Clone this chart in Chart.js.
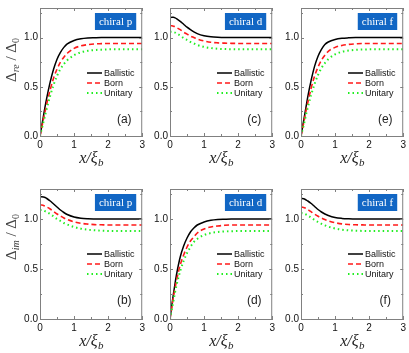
<!DOCTYPE html>
<html>
<head>
<meta charset="utf-8">
<script src="https://cdn.jsdelivr.net/npm/chart.js@4.4.0/dist/chart.umd.min.js"></script>
<style>
  body { margin: 0; background: #fff; }
  #wrap { position: relative; width: 409px; height: 353px; overflow: hidden; }
  canvas { position: absolute; }
</style>
</head>
<body>
<div id="wrap"></div>
<script>
// x/xi_b sample positions shared by every panel
const xs = [0, 0.05, 0.1, 0.15, 0.2, 0.3, 0.4, 0.5, 0.6, 0.7, 0.8, 1.0, 1.2, 1.4, 1.6, 1.8, 2.0, 2.5, 3.0];
const xTicks = [0, 1, 2, 3];
const yTicks = [0, 0.5, 1.0];
const seriesNames = ["Ballistic", "Born", "Unitary"];

// (a) chiral p, real part
const aBallistic = [0, 0.1, 0.2, 0.3, 0.39, 0.55, 0.68, 0.78, 0.85, 0.9, 0.935, 0.97, 0.987, 0.995, 0.998, 1, 1, 1, 1];
const aBorn      = [0, 0.08, 0.17, 0.25, 0.33, 0.47, 0.59, 0.68, 0.75, 0.8, 0.84, 0.89, 0.915, 0.928, 0.935, 0.938, 0.94, 0.94, 0.94];
const aUnitary   = [0, 0.07, 0.14, 0.21, 0.28, 0.41, 0.52, 0.61, 0.68, 0.73, 0.77, 0.82, 0.85, 0.865, 0.873, 0.877, 0.88, 0.88, 0.88];

// (c) chiral d, real part
const cBallistic = [1.2, 1.205, 1.205, 1.2, 1.19, 1.165, 1.135, 1.105, 1.08, 1.058, 1.04, 1.018, 1.007, 1.002, 1, 1, 1, 1, 1];
const cBorn      = [1.12, 1.12, 1.115, 1.11, 1.1, 1.08, 1.055, 1.035, 1.015, 1.0, 0.985, 0.965, 0.952, 0.946, 0.943, 0.941, 0.94, 0.94, 0.94];
const cUnitary   = [1.06, 1.06, 1.055, 1.05, 1.04, 1.02, 0.995, 0.975, 0.955, 0.94, 0.925, 0.905, 0.893, 0.886, 0.883, 0.881, 0.88, 0.88, 0.88];

// (e) chiral f, real part
const eBallistic = [0, 0.1, 0.2, 0.3, 0.4, 0.57, 0.71, 0.81, 0.88, 0.93, 0.955, 0.98, 0.992, 0.997, 1, 1, 1, 1, 1];
const eBorn      = [0, 0.08, 0.17, 0.26, 0.34, 0.49, 0.61, 0.7, 0.77, 0.82, 0.86, 0.9, 0.92, 0.93, 0.936, 0.94, 0.94, 0.94, 0.94];
const eUnitary   = [0, 0.07, 0.14, 0.22, 0.29, 0.42, 0.53, 0.62, 0.69, 0.74, 0.78, 0.83, 0.855, 0.868, 0.875, 0.878, 0.88, 0.88, 0.88];

// (b) chiral p, imaginary part
const bBallistic = [1.22, 1.222, 1.22, 1.215, 1.205, 1.18, 1.15, 1.12, 1.09, 1.065, 1.045, 1.02, 1.008, 1.003, 1.001, 1, 1, 1, 1];
const bBorn      = [1.14, 1.14, 1.135, 1.128, 1.12, 1.1, 1.075, 1.05, 1.03, 1.01, 0.995, 0.972, 0.957, 0.949, 0.944, 0.942, 0.94, 0.94, 0.94];
const bUnitary   = [1.09, 1.09, 1.085, 1.078, 1.07, 1.05, 1.025, 1.0, 0.98, 0.96, 0.945, 0.92, 0.903, 0.893, 0.887, 0.883, 0.881, 0.88, 0.88];

// (d) chiral d, imaginary part
const dBallistic = [0, 0.13, 0.25, 0.36, 0.46, 0.62, 0.73, 0.81, 0.87, 0.91, 0.94, 0.97, 0.987, 0.995, 0.998, 1, 1, 1, 1];
const dBorn      = [0, 0.11, 0.22, 0.31, 0.4, 0.54, 0.64, 0.72, 0.78, 0.82, 0.86, 0.9, 0.92, 0.93, 0.937, 0.94, 0.94, 0.94, 0.94];
const dUnitary   = [0, 0.09, 0.18, 0.27, 0.35, 0.48, 0.58, 0.66, 0.72, 0.77, 0.8, 0.84, 0.86, 0.87, 0.875, 0.878, 0.88, 0.88, 0.88];

// (f) chiral f, imaginary part
const fBallistic = [1.2, 1.205, 1.2, 1.19, 1.18, 1.155, 1.125, 1.095, 1.07, 1.05, 1.035, 1.015, 1.006, 1.002, 1, 1, 1, 1, 1];
const fBorn      = [1.12, 1.118, 1.113, 1.105, 1.095, 1.072, 1.048, 1.027, 1.01, 0.995, 0.982, 0.963, 0.951, 0.945, 0.942, 0.941, 0.94, 0.94, 0.94];
const fUnitary   = [1.06, 1.058, 1.052, 1.045, 1.035, 1.013, 0.99, 0.97, 0.952, 0.937, 0.924, 0.905, 0.893, 0.886, 0.883, 0.881, 0.88, 0.88, 0.88];

const panels = [
  { id: "a", row: 0, col: 0, tag: "chiral p", yName: "re", data: [aBallistic, aBorn, aUnitary] },
  { id: "c", row: 0, col: 1, tag: "chiral d", yName: null, data: [cBallistic, cBorn, cUnitary] },
  { id: "e", row: 0, col: 2, tag: "chiral f", yName: null, data: [eBallistic, eBorn, eUnitary] },
  { id: "b", row: 1, col: 0, tag: "chiral p", yName: "im", data: [bBallistic, bBorn, bUnitary] },
  { id: "d", row: 1, col: 1, tag: "chiral d", yName: null, data: [dBallistic, dBorn, dUnitary] },
  { id: "f", row: 1, col: 2, tag: "chiral f", yName: null, data: [fBallistic, fBorn, fUnitary] }
];

const lineStyles = [
  { color: "#000000", dash: [], width: 1.5 },
  { color: "#ff1a1a", dash: [5, 3], width: 1.6 },
  { color: "#22ee22", dash: [1.5, 3], width: 2 }
];

// canvas boxes per column / row
const colLeft = [0, 148, 279], colWidth = [148, 130, 130], yAxisW = [40, 22, 22], padRight = [3, 3, 4];
const rowTop = [0, 176], rowHeight = [176, 177], padTop = [7, 13], xAxisH = [40, 34];

const sans = "'Liberation Sans', Arial, sans-serif";
const serif = "'Liberation Serif', 'Times New Roman', serif";

const decorate = {
  id: "decorate",
  afterDraw(chart) {
    const ctx = chart.ctx;
    const area = chart.chartArea;
    const p = chart.options.plugins.decorate;
    const xs_ = chart.scales.x, ys_ = chart.scales.y;
    ctx.save();

    // frame
    ctx.strokeStyle = "#808080";
    ctx.lineWidth = 1;
    ctx.strokeRect(area.left + 0.5, area.top + 0.5, area.right - area.left - 1, area.bottom - area.top);

    // inward tick marks
    ctx.beginPath();
    for (let v = 0; v <= 3.001; v += 0.5) {
      const px = Math.round(xs_.getPixelForValue(v)) + 0.5;
      const len = Number.isInteger(v) ? 3 : 2;
      ctx.moveTo(px, area.bottom); ctx.lineTo(px, area.bottom - len);
      ctx.moveTo(px, area.top); ctx.lineTo(px, area.top + len);
    }
    for (let v = 0; v <= 1.3; v += 0.25) {
      const py = Math.round(ys_.getPixelForValue(v)) + 0.5;
      const len = (v * 2) % 1 === 0 ? 3 : 2;
      ctx.moveTo(area.left, py); ctx.lineTo(area.left + len, py);
      ctx.moveTo(area.right, py); ctx.lineTo(area.right - len, py);
    }
    ctx.stroke();

    // tag box
    ctx.font = "11px " + serif;
    const tw = ctx.measureText(p.tag).width;
    const bw = tw + 8, bh = 17;
    const bx = area.right - 6 - bw, by = area.top + 5;
    ctx.fillStyle = "#1166c4";
    ctx.fillRect(bx, by, bw, bh);
    ctx.fillStyle = "#fff";
    ctx.textBaseline = "middle";
    ctx.textAlign = "center";
    ctx.fillText(p.tag, bx + bw / 2, by + bh / 2 + 0.5);

    // legend
    ctx.textAlign = "left";
    ctx.font = "9px " + sans;
    seriesNames.forEach((name, i) => {
      const ly = area.top + 65 + i * 10;
      const st = lineStyles[i];
      ctx.beginPath();
      ctx.setLineDash(st.dash);
      ctx.strokeStyle = st.color;
      ctx.lineWidth = st.width;
      ctx.moveTo(area.left + 47, ly);
      ctx.lineTo(area.left + 62, ly);
      ctx.stroke();
      ctx.setLineDash([]);
      ctx.fillStyle = "#111";
      ctx.fillText(name, area.left + 64, ly + 0.5);
    });

    // panel letter
    ctx.font = "12px " + sans;
    ctx.textAlign = "center";
    ctx.fillStyle = "#222";
    ctx.fillText("(" + p.id + ")", area.right - 18, area.top + 112);

    // x axis title: x / xi_b
    const cx = (area.left + area.right) / 2;
    const base = area.bottom + 27;
    ctx.textBaseline = "alphabetic";
    ctx.textAlign = "left";
    ctx.font = "italic 16px " + serif;
    const main = "x/\u03BE";
    const mw = ctx.measureText(main).width;
    ctx.font = "italic 11px " + serif;
    const sw = ctx.measureText("b").width;
    let x0 = cx - (mw + sw) / 2;
    ctx.font = "italic 16px " + serif;
    ctx.fillStyle = "#222";
    ctx.fillText(main, x0, base);
    ctx.font = "italic 11px " + serif;
    ctx.fillText("b", x0 + mw + 0.5, base + 3);

    // y axis title: Delta_sub / Delta_0
    if (p.yName) {
      ctx.save();
      ctx.translate(11, p.yCenter);
      ctx.rotate(-Math.PI / 2);
      const parts = [
        ["\u0394", "15px " + serif, 0],
        [p.yName, "italic 10px " + serif, 3],
        [" / ", "15px " + serif, 0],
        ["\u0394", "15px " + serif, 0],
        ["0", "10px " + serif, 3]
      ];
      let total = 0;
      parts.forEach(pt => { ctx.font = pt[1]; total += ctx.measureText(pt[0]).width; });
      let px = -total / 2;
      ctx.fillStyle = "#444";
      parts.forEach(pt => {
        ctx.font = pt[1];
        ctx.fillText(pt[0], px, 5 + pt[2]);
        px += ctx.measureText(pt[0]).width;
      });
      ctx.restore();
    }
    ctx.restore();
  }
};

const wrap = document.getElementById("wrap");

panels.forEach(pn => {
  const cv = document.createElement("canvas");
  cv.style.left = colLeft[pn.col] + "px";
  cv.style.top = rowTop[pn.row] + "px";
  cv.style.width = colWidth[pn.col] + "px";
  cv.style.height = rowHeight[pn.row] + "px";
  cv.width = colWidth[pn.col];
  cv.height = rowHeight[pn.row];
  wrap.appendChild(cv);

  const datasets = pn.data.map((vals, i) => ({
    label: seriesNames[i],
    data: xs.map((x, k) => ({ x: x, y: vals[k] })),
    borderColor: lineStyles[i].color,
    borderDash: lineStyles[i].dash,
    borderWidth: lineStyles[i].width,
    pointRadius: 0,
    fill: false,
    cubicInterpolationMode: "monotone"
  }));

  new Chart(cv, {
    type: "line",
    data: { datasets: datasets.reverse() },
    options: {
      responsive: false,
      animation: false,
      events: [],
      layout: { padding: { top: padTop[pn.row], right: padRight[pn.col], left: 0, bottom: 0 } },
      plugins: {
        legend: { display: false },
        tooltip: { enabled: false },
        decorate: { id: pn.id, tag: pn.tag, yName: pn.yName, yCenter: pn.row === 0 ? 60 : 61 }
      },
      scales: {
        x: {
          type: "linear",
          min: 0, max: 3,
          afterBuildTicks: s => { s.ticks = xTicks.map(v => ({ value: v })); },
          afterFit: s => { s.height = xAxisH[pn.row]; },
          grid: { display: false, drawTicks: false },
          border: { display: true, color: "#808080" },
          ticks: { padding: 3, maxRotation: 0, color: "#111", font: { family: sans, size: 10 } }
        },
        y: {
          type: "linear",
          min: 0, max: 1.3,
          afterBuildTicks: s => { s.ticks = yTicks.map(v => ({ value: v })); },
          afterFit: s => { s.width = yAxisW[pn.col]; },
          grid: { display: false, drawTicks: false },
          border: { display: true, color: "#808080" },
          ticks: { padding: 2, color: "#111", font: { family: sans, size: 10 }, callback: v => v.toFixed(1) }
        }
      }
    },
    plugins: [decorate]
  });
});
</script>
</body>
</html>
